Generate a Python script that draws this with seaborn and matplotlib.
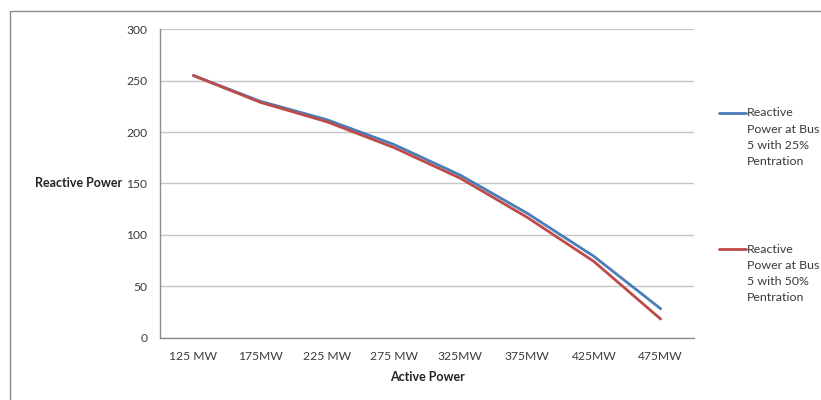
import textwrap
import numpy as np
import pandas as pd
import matplotlib
matplotlib.use("Agg")
import matplotlib.pyplot as plt
from matplotlib.lines import Line2D
from matplotlib.patches import Rectangle
from matplotlib.ticker import FixedLocator
import seaborn as sns

# Active power operating points (x categories)
categories = ["125 MW", "175MW", "225 MW", "275 MW", "325MW", "375MW", "425MW", "475MW"]

# Reactive power at bus 5 for two penetration levels
series_names = [
    "Reactive Power at Bus 5 with 25% Pentration",
    "Reactive Power at Bus 5 with 50% Pentration",
]
q_25 = [255, 230, 212, 188, 158, 121, 79, 28]
q_50 = [255, 229, 210, 185, 155, 117, 74, 18]

y_ticks = [0, 50, 100, 150, 200, 250, 300]

colors = ["#4A7EBB", "#BE4B48"]
text_color = "#3A3A3A"
font = ["Lato", "DejaVu Sans"]

df = pd.DataFrame({
    "Active Power": categories * 2,
    "Reactive Power": q_25 + q_50,
    "Series": [series_names[0]] * len(categories) + [series_names[1]] * len(categories),
})

sns.set_style("white")
plt.rcParams["font.family"] = font

W, H = 821, 400
fig = plt.figure(figsize=(W / 100, H / 100), dpi=100)

# outer chart frame
fig.add_artist(Rectangle((10 / W, -0.05), 1.0, 1 - 11 / H + 0.05,
                         transform=fig.transFigure, fill=False,
                         edgecolor="#8C8C8C", linewidth=1.0))

left, right, top, bottom = 160, 694, 29.3, 337.5
ax = fig.add_axes([left / W, 1 - bottom / H, (right - left) / W, (bottom - top) / H])

sns.lineplot(data=df, x="Active Power", y="Reactive Power", hue="Series",
             palette=dict(zip(series_names, colors)), sort=False,
             linewidth=2.0, legend=False, ax=ax)

ax.set_xlim(-0.5, len(categories) - 0.5)
ax.set_ylim(0, 300)
ax.set_yticks(y_ticks)
ax.set_xticks(range(len(categories)))
ax.set_xticklabels(categories)
ax.xaxis.set_minor_locator(FixedLocator(np.arange(-0.5, len(categories), 1.0)))

ax.grid(axis="y", color="#C6C6C6", linewidth=1.0)
ax.grid(axis="x", visible=False)
ax.set_axisbelow(True)
for side in ["top", "right"]:
    ax.spines[side].set_visible(False)
for side in ["left", "bottom"]:
    ax.spines[side].set_color("#8C8C8C")
    ax.spines[side].set_linewidth(1.0)

ax.tick_params(axis="y", which="major", direction="out", length=5, width=1,
               color="#8C8C8C", labelsize=8.7, labelcolor=text_color, pad=4)
ax.tick_params(axis="x", which="major", length=0, labelsize=8.7,
               labelcolor=text_color, pad=10)
ax.tick_params(axis="x", which="minor", direction="out", length=5, width=1,
               color="#8C8C8C")

ax.set_xlabel("Active Power", fontsize=9, fontweight="bold", color="#222222",
              labelpad=6)
ax.set_ylabel("Reactive Power", fontsize=9, fontweight="bold", color="#222222",
              rotation=0, ha="right", va="center")
ax.yaxis.set_label_coords(-0.071, 0.5)

# legend on the right, each entry wrapped over several lines
handle_x0, handle_x1, text_x = 719, 746, 747
entry_tops = [113, 249]
line_step = 16.3
for name, color, y0 in zip(series_names, colors, entry_tops):
    fig.add_artist(Line2D([handle_x0 / W, handle_x1 / W], [1 - y0 / H, 1 - y0 / H],
                          transform=fig.transFigure, color=color, linewidth=2.0))
    for i, line in enumerate(textwrap.wrap(name, 12)):
        fig.text(text_x / W, 1 - (y0 + i * line_step) / H, line,
                 fontsize=8.9, color=text_color, ha="left", va="center")

fig.savefig("out.png", dpi=100)
